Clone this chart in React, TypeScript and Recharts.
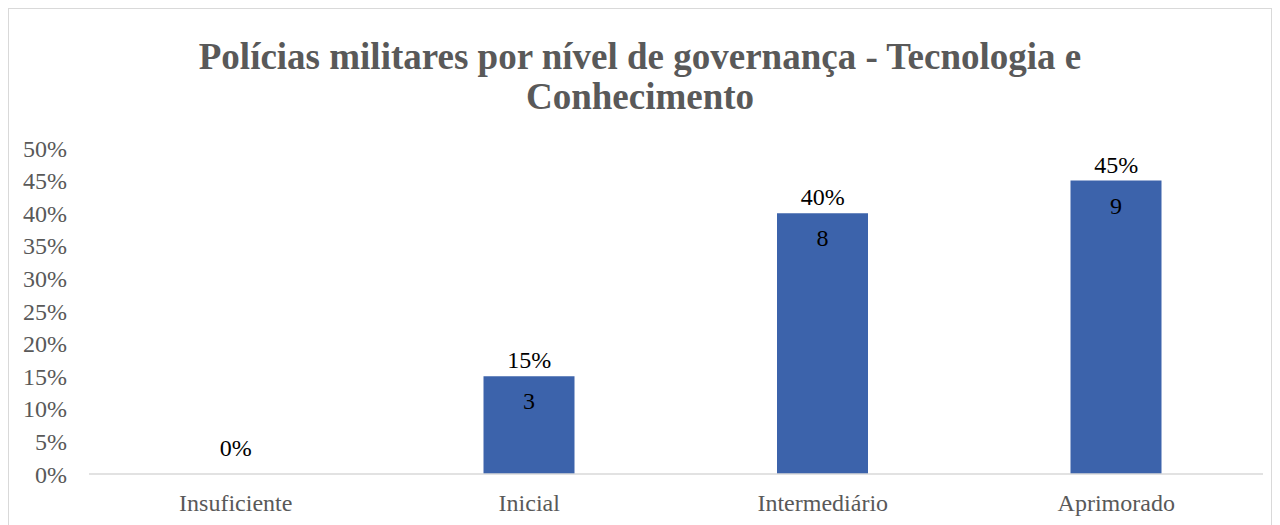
import React from "react";
import { ComposedChart, Bar, Line, XAxis, YAxis, LabelList } from "recharts";

const categories = ["Insuficiente", "Inicial", "Intermediário", "Aprimorado"];
const percentages = [0, 0.15, 0.4, 0.45];
const counts = [0, 3, 8, 9];
const yTicks = [0, 0.05, 0.1, 0.15, 0.2, 0.25, 0.3, 0.35, 0.4, 0.45, 0.5];
const titleLines = ["Polícias militares por nível de governança - Tecnologia e", "Conhecimento"];

const data = categories.map((c, i) => ({ name: c, pct: percentages[i], count: counts[i] }));

const FONT = "'Liberation Serif', 'Times New Roman', serif";
const fmtPct = (v: number) => `${Math.round(v * 100)}%`;

const PctLabel = (props: any) => {
  const { x, y, value } = props;
  if (x == null || y == null) return null;
  const extra = value === 0 ? 10 : 0;
  return (
    <text
      x={x}
      y={y - 8 - extra}
      textAnchor="middle"
      fill="#000"
      fontSize={24}
      fontFamily={FONT}
    >
      {fmtPct(value)}
    </text>
  );
};

export default function App() {
  return (
    <div
      style={{
        position: "relative",
        width: 1264,
        height: 530,
        border: "1px solid #d9d9d9",
        boxSizing: "border-box",
        background: "#fff",
        fontFamily: FONT,
      }}
    >
      <div
        style={{
          position: "absolute",
          top: 28,
          left: 0,
          width: 1262,
          textAlign: "center",
          fontWeight: "bold",
          fontSize: 37,
          lineHeight: "40px",
          color: "#595959",
          fontFamily: FONT,
        }}
      >
        {titleLines.map((t, i) => (
          <div key={i}>{t}</div>
        ))}
      </div>
      <div style={{ position: "absolute", top: 0, left: 0 }}>
        <ComposedChart
          width={1262}
          height={520}
          data={data}
          margin={{ top: 139, right: 8, bottom: 15, left: 0 }}
        >
          <XAxis
            dataKey="name"
            axisLine={{ stroke: "#d9d9d9", strokeWidth: 1.5 }}
            tickLine={false}
            tickSize={0}
            tickMargin={20}
            height={40}
            tick={{ fill: "#595959", fontSize: 24, fontFamily: FONT }}
            interval={0}
          />
          <YAxis
            domain={[0, 0.5]}
            ticks={yTicks}
            tickFormatter={fmtPct}
            axisLine={false}
            tickLine={false}
            tickSize={0}
            tickMargin={22}
            width={80}
            tick={{ fill: "#595959", fontSize: 24, fontFamily: FONT }}
            interval={0}
          />
          <Bar dataKey="pct" fill="#3c63ab" barSize={91} isAnimationActive={false}>
            <LabelList
              dataKey="count"
              position="insideTop"
              offset={16}
              formatter={(v: number) => (v ? String(v) : "")}
              style={{ fill: "#000", fontSize: 24, fontFamily: FONT }}
            />
          </Bar>
          <Line
            dataKey="pct"
            stroke="none"
            dot={false}
            activeDot={false}
            isAnimationActive={false}
          >
            <LabelList dataKey="pct" content={PctLabel} />
          </Line>
        </ComposedChart>
      </div>
    </div>
  );
}
